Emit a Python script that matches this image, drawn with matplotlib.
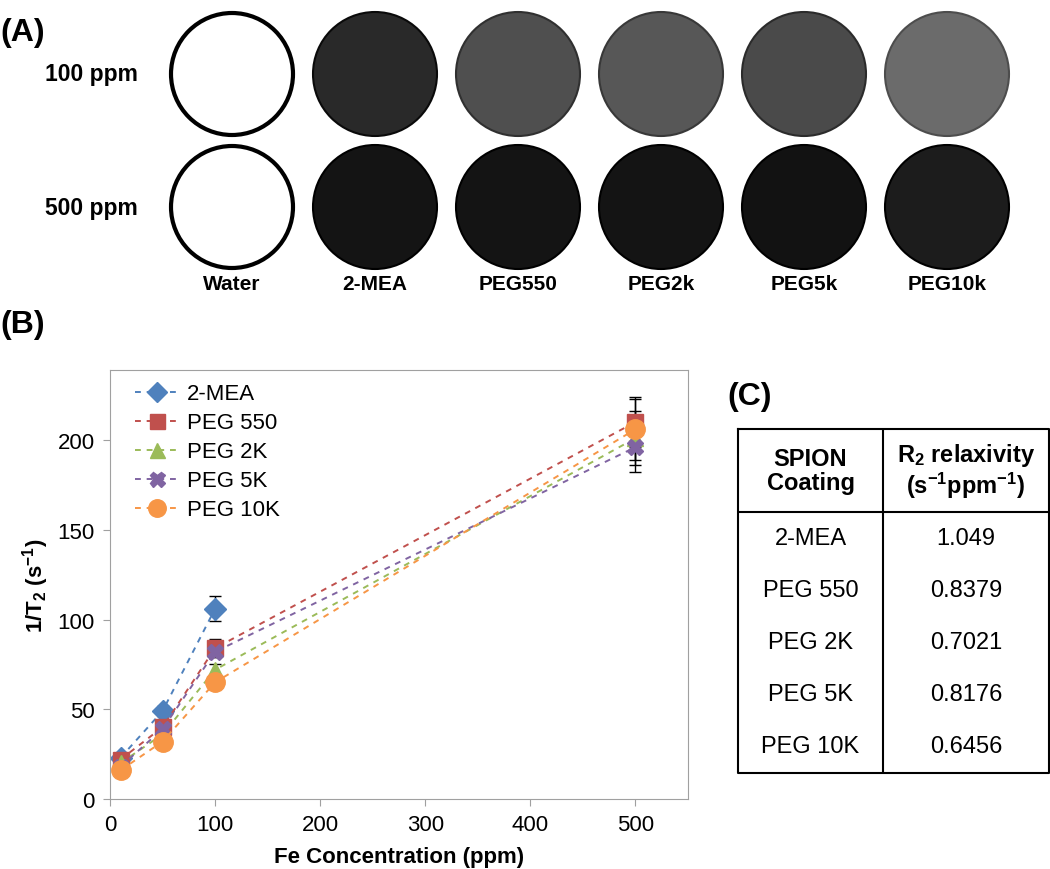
import numpy as np
import matplotlib
matplotlib.use("Agg")
import matplotlib.pyplot as plt
from matplotlib.patches import Circle
from matplotlib.lines import Line2D

plt.rcParams['font.family'] = ['Liberation Sans', 'DejaVu Sans']
plt.rcParams['mathtext.fontset'] = 'custom'
plt.rcParams['mathtext.rm'] = 'Liberation Sans'
plt.rcParams['mathtext.it'] = 'Liberation Sans'
plt.rcParams['mathtext.bf'] = 'Liberation Sans:bold'

# ---- panel A: phantom images (grey level 0=black, 1=white)
coatings_img = ['Water', '2-MEA', 'PEG550', 'PEG2k', 'PEG5k', 'PEG10k']
rows_img = ['100 ppm', '500 ppm']
grey_100 = [1.0, 0.16, 0.31, 0.34, 0.29, 0.42]
grey_500 = [1.0, 0.08, 0.08, 0.08, 0.07, 0.11]

# ---- panel B: 1/T2 vs Fe concentration (2-MEA has no 500 ppm point)
conc = [10, 50, 100, 500]
series = ['2-MEA', 'PEG 550', 'PEG 2K', 'PEG 5K', 'PEG 10K']
r_mea = [23, 49, 106, np.nan]
r_peg550 = [22, 40, 84, 210]
r_peg2k = [20, 36, 72, 201]
r_peg5k = [18, 39, 82, 196]
r_peg10k = [16, 32, 65, 206]
e_mea = [2, 3, 7, 0]
e_peg550 = [2, 2, 5, 14]
e_peg2k = [2, 2, 3, 15]
e_peg5k = [2, 2, 3, 14]
e_peg10k = [1, 2, 3, 17]

# ---- panel C: relaxivity table
tab_coating = ['2-MEA', 'PEG 550', 'PEG 2K', 'PEG 5K', 'PEG 10K']
tab_r2 = ['1.049', '0.8379', '0.7021', '0.8176', '0.6456']

W, H = 1050, 870
fig = plt.figure(figsize=(W / 100, H / 100), dpi=100)


def px_axes(x0, y0, x1, y1):
    # axes from pixel box (top-left origin)
    return fig.add_axes([x0 / W, 1 - y1 / H, (x1 - x0) / W, (y1 - y0) / H])


# ================= (A)
axa = px_axes(0, 0, W, 300)
axa.set_xlim(0, W)
axa.set_ylim(300, 0)
axa.axis('off')
cx0, dcx = 232, 143
row_y = [75, 208]
rad = 62
for r, greys in enumerate([grey_100, grey_500]):
    for i, g in enumerate(greys):
        cx = cx0 + i * dcx
        if g > 0.9:
            axa.add_patch(Circle((cx, row_y[r]), rad - 1, facecolor='white',
                                 edgecolor='black', lw=3.0))
        else:
            axa.add_patch(Circle((cx, row_y[r]), rad, facecolor=str(g),
                                 edgecolor=str(max(g - 0.12, 0)), lw=1.5))
    axa.text(91, row_y[r], rows_img[r], ha='center', va='center',
             fontsize=16.5, fontweight='bold')
for i, name in enumerate(coatings_img):
    axa.text(cx0 + i * dcx, 284, name, ha='center', va='center',
             fontsize=15, fontweight='bold')
axa.text(0, 33, '(A)', ha='left', va='center', fontsize=23, fontweight='bold')

# ================= (B)
fig.text(0, 1 - 325 / H, '(B)', ha='left', va='center', fontsize=23,
         fontweight='bold')
ax = px_axes(110, 371, 688, 800)
colors = ['#4F81BD', '#C0504D', '#9BBB59', '#8064A2', '#F79646']
markers = ['D', 's', '^', 'X', 'o']
msizes = [11, 12, 12, 12, 14]
vals = [r_mea, r_peg550, r_peg2k, r_peg5k, r_peg10k]
errs = [e_mea, e_peg550, e_peg2k, e_peg5k, e_peg10k]
handles = []
for name, y, e, c, m, ms in zip(series, vals, errs, colors, markers, msizes):
    ax.errorbar(conc, y, yerr=e, color=c, ls=(0, (3, 3)), lw=1.4,
                marker=m, ms=ms, mec=c, mfc=c, ecolor='black',
                elinewidth=1, capsize=4, capthick=1)
    handles.append(Line2D([], [], color=c, ls=(0, (3, 3)), lw=1.4,
                          marker=m, ms=ms * 0.9, mec=c, mfc=c, label=name))
ax.set_xlim(0, 550)
ax.set_ylim(0, 239)
ax.set_xticks(np.arange(0, 501, 100))
ax.set_yticks(np.arange(0, 201, 50))
for s in ax.spines.values():
    s.set_color('#a0a0a0')
ax.tick_params(direction='out', length=5, color='#a0a0a0', labelsize=16,
               pad=6)
ax.set_xlabel('Fe Concentration (ppm)', fontsize=16, fontweight='bold',
              labelpad=8)
ax.set_ylabel(r'1/$\mathbf{T_2}$ (s$^\mathbf{-1}$)', fontsize=16,
              fontweight='bold', labelpad=5)
ax.legend(handles=handles, loc='upper left', frameon=False, fontsize=16,
          handlelength=2.0, handletextpad=0.35, labelspacing=0.36,
          borderaxespad=0.2, bbox_to_anchor=(0.02, 1.0))

# ================= (C)
fig.text(750 / W, 1 - 397 / H, '(C)', ha='center', va='center', fontsize=23,
         fontweight='bold')
axc = px_axes(738, 430, 1049, 774)
axc.set_xlim(0, 311)
axc.set_ylim(344, 0)
axc.axis('off')
hdr_h, row_h, col_w = 83, 52, 145
axc.plot([0, 311, 311, 0, 0], [0, 0, 344, 344, 0], color='black', lw=1.5,
         clip_on=False)
axc.plot([col_w, col_w], [0, 344], color='black', lw=1.5)
axc.plot([0, 311], [hdr_h, hdr_h], color='black', lw=1.5)
axc.text(col_w / 2, hdr_h / 2, 'SPION\nCoating', ha='center', va='center',
         fontsize=17, fontweight='bold', linespacing=1.1)
axc.text((col_w + 311) / 2, hdr_h / 2,
         'R$_\\mathbf{2}$ relaxivity\n(s$^\\mathbf{-1}$ppm$^\\mathbf{-1}$)',
         ha='center', va='center', fontsize=17, fontweight='bold',
         linespacing=1.1)
for i, (cname, rv) in enumerate(zip(tab_coating, tab_r2)):
    yc = hdr_h + row_h * (i + 0.5)
    axc.text(col_w / 2, yc, cname, ha='center', va='center', fontsize=17)
    axc.text((col_w + 311) / 2, yc, rv, ha='center', va='center', fontsize=17)

fig.savefig('out.png', dpi=100)
